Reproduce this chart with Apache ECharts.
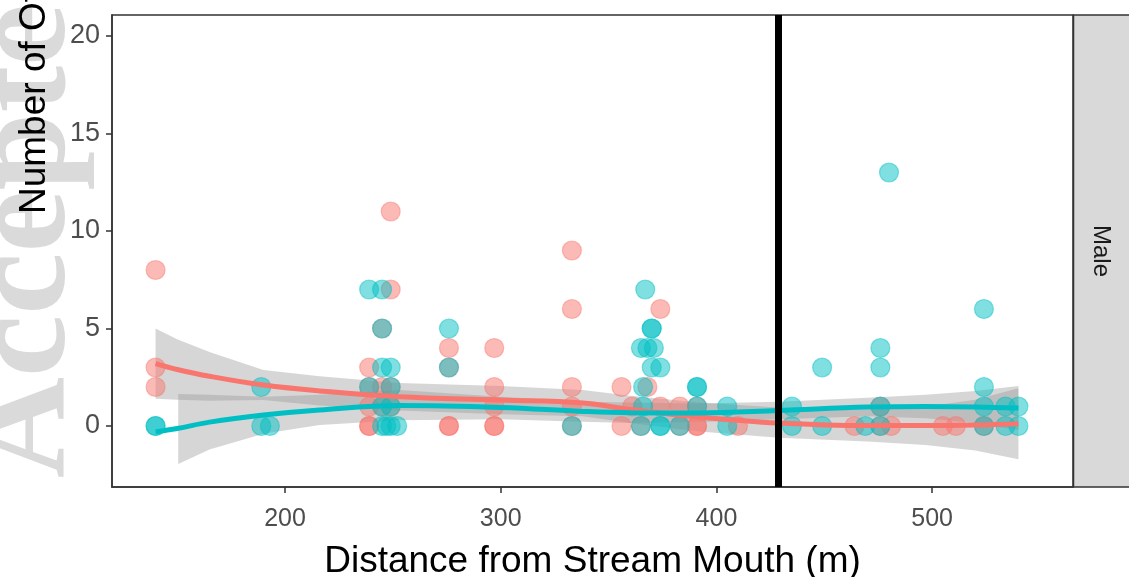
<!DOCTYPE html>
<html>
<head>
<meta charset="utf-8">
<script src="https://cdn.jsdelivr.net/npm/echarts@6/dist/echarts.min.js"></script>
<style>html,body{margin:0;padding:0;background:#fff}#main{width:1129px;height:577px}</style>
</head>
<body>
<div id="main"></div>
<script>
var xTicks = [200, 300, 400, 500];
var yTicks = [0, 5, 10, 15, 20];
var facetLabel = 'Male';
var cutoff = 428.8;

// observed counts, [distance, count]
var redPts = [
  [140,8],[140,3],[140,2],
  [249,11],[249,7],[245,5],[239,3],[239,2],[245,2],[249,2],[239,1],[245,1],[249,1],[239,0],[239,0],
  [276,4],[276,3],[276,0],[276,0],
  [297,4],[297,2],[297,1],[297,0],[297,0],
  [333,9],[333,6],[333,2],[333,1],[333,0],
  [356,2],[356,0],[361,1],[368,2],[374,6],[374,1],[383,1],[391,1],[365,0],[383,0],[391,0],[391,0],[410,0],
  [476,1],[464,0],[476,0],[481,0],[505,0],[511,0],[524,0]
];
var tealPts = [
  [140,0],[140,0],
  [189,2],[189,0],[193,0],
  [239,7],[245,7],[245,5],[245,3],[249,3],[239,2],[249,2],[245,1],[249,1],[245,0],[247,0],[249,0],[252,0],
  [276,5],[276,3],
  [333,0],
  [367,7],[370,5],[370,5],[365,4],[368,4],[371,4],[370,3],[374,3],[366,2],[391,2],[391,2],[366,1],[391,1],[405,1],[365,0],[374,0],[374,0],[383,0],[405,0],
  [480,13],[524,6],[476,4],[476,3],[449,3],[524,2],[435,1],[476,1],[524,1],[534,1],[540,1],[435,0],[449,0],[469,0],[476,0],[524,0],[534,0],[540,0]
];

// loess fits and confidence bands
var fitX    = [140, 150, 165, 190, 216, 253, 300, 338, 360, 392, 429, 470, 497, 520, 540];
var redFit  = [3.2, 2.9, 2.55, 2.1, 1.8, 1.5, 1.33, 1.18, 0.85, 0.46, 0.15, 0.02, 0.02, 0.05, 0.12];
var redHigh = [5.0, 4.45, 3.8, 2.87, 2.55, 2.2, 2.05, 1.85, 1.55, 1.2, 0.95, 0.85, 1.0, 1.35, 1.94];
var redLow  = [1.4, 1.35, 1.3, 1.33, 1.05, 0.8, 0.6, 0.5, 0.15, -0.28, -0.6, -0.8, -0.97, -1.25, -1.7];
var tealFit = [-0.3, -0.13, 0.2, 0.56, 0.82, 1.05, 0.95, 0.75, 0.68, 0.67, 0.8, 0.97, 1.0, 0.98, 0.92];
var bandX    = [150.5, 165, 190, 216, 253, 300, 338, 360, 392, 429, 470, 497, 520, 540];
var tealHigh = [1.64, 1.6, 1.5, 1.6, 1.85, 1.5, 1.25, 1.2, 1.15, 1.25, 1.45, 1.6, 1.8, 2.05];
var tealLow  = [-1.95, -1.2, -0.4, 0.05, 0.3, 0.35, 0.22, 0.16, 0.2, 0.35, 0.5, 0.4, 0.15, -0.2];

var RED = '#F8766D', TEAL = '#00BFC4';
var FONT = '"Liberation Sans", Arial, sans-serif';

function pairs(xs, ys) {
  return xs.map(function (x, i) { return [x, ys[i]]; });
}

function ribbon(xs, lo, hi) {
  return function (params, api) {
    var pts = [];
    for (var i = 0; i < xs.length; i++) pts.push(api.coord([xs[i], hi[i]]));
    for (var j = xs.length - 1; j >= 0; j--) pts.push(api.coord([xs[j], lo[j]]));
    return {
      type: 'polygon',
      shape: { points: pts },
      style: { fill: 'rgba(153,153,153,0.4)' }
    };
  };
}

function pointSeries(data, rgb) {
  return {
    type: 'scatter',
    data: data,
    symbolSize: 19,
    itemStyle: {
      color: 'rgba(' + rgb + ',0.5)',
      borderColor: 'rgba(' + rgb + ',0.45)',
      borderWidth: 1.2,
      opacity: 1
    },
    emphasis: { disabled: true }
  };
}

var myChart = echarts.init(document.getElementById('main'));
var option = {
  animation: false,
  backgroundColor: '#fff',
  grid: {
    left: 112, right: 56, top: 15, bottom: 90,
    outerBoundsMode: 'none', containLabel: false,
    show: true, borderColor: '#333', borderWidth: 1.5, backgroundColor: 'transparent'
  },
  xAxis: {
    type: 'value', min: 119.8, max: 565.3,
    name: 'Distance from Stream Mouth (m)',
    nameLocation: 'middle', nameGap: 56,
    nameTextStyle: { fontSize: 37, color: '#000', fontFamily: FONT },
    axisLine: { show: true, onZero: false, lineStyle: { color: '#333', width: 1.5 } },
    splitLine: { show: false },
    axisTick: { show: true, length: 6, customValues: xTicks, lineStyle: { color: '#333', width: 1.5 } },
    axisLabel: { customValues: xTicks, fontSize: 25, color: '#4d4d4d', margin: 20, fontFamily: FONT }
  },
  yAxis: {
    type: 'value', min: -3.128, max: 21.077,
    axisLine: { show: true, onZero: false, lineStyle: { color: '#333', width: 1.5 } },
    splitLine: { show: false },
    axisTick: { show: true, length: 6, customValues: yTicks, lineStyle: { color: '#333', width: 1.5 } },
    axisLabel: { customValues: yTicks, fontSize: 27, color: '#4d4d4d', margin: 12, fontFamily: FONT }
  },
  graphic: [
    {
      type: 'text', x: 98, y: 478, rotation: Math.PI / 2, z: 0,
      style: {
        text: 'Accepted', fill: '#dadada',
        font: 'bold 140px "Liberation Serif", "Times New Roman", serif',
        textAlign: 'left', textVerticalAlign: 'bottom'
      }
    },
    {
      type: 'text', x: 53, y: 214, rotation: Math.PI / 2, z: 1,
      style: {
        text: 'Number of Offspring', fill: '#000',
        font: '37px "Liberation Sans", Arial, sans-serif',
        textAlign: 'left', textVerticalAlign: 'bottom'
      }
    },
    {
      type: 'rect', z: 1,
      shape: { x: 1073.5, y: 15, width: 70, height: 472 },
      style: { fill: '#d9d9d9', stroke: '#333', lineWidth: 1.5 }
    },
    {
      type: 'text', x: 1101, y: 251, rotation: -Math.PI / 2, z: 2,
      style: {
        text: facetLabel, fill: '#1a1a1a',
        font: '24px "Liberation Sans", Arial, sans-serif',
        textAlign: 'center', textVerticalAlign: 'middle'
      }
    }
  ],
  series: [
    pointSeries(redPts, '248,118,109'),
    pointSeries(tealPts, '0,191,196'),
    { type: 'custom', data: [[300, 0]], renderItem: ribbon(fitX, redLow, redHigh), silent: true },
    {
      type: 'line', data: pairs(fitX, redFit), smooth: 0.4, symbol: 'none',
      lineStyle: { color: RED, width: 5 }, silent: true
    },
    { type: 'custom', data: [[300, 0]], renderItem: ribbon(bandX, tealLow, tealHigh), silent: true },
    {
      type: 'line', data: pairs(fitX, tealFit), smooth: 0.4, symbol: 'none',
      lineStyle: { color: TEAL, width: 5 }, silent: true
    },
    {
      type: 'line', data: [], silent: true,
      markLine: {
        silent: true, symbol: ['none', 'none'], animation: false,
        label: { show: false },
        lineStyle: { color: '#000', width: 7, type: 'solid' },
        data: [{ xAxis: cutoff }]
      }
    }
  ]
};
myChart.setOption(option);
</script>
</body>
</html>
